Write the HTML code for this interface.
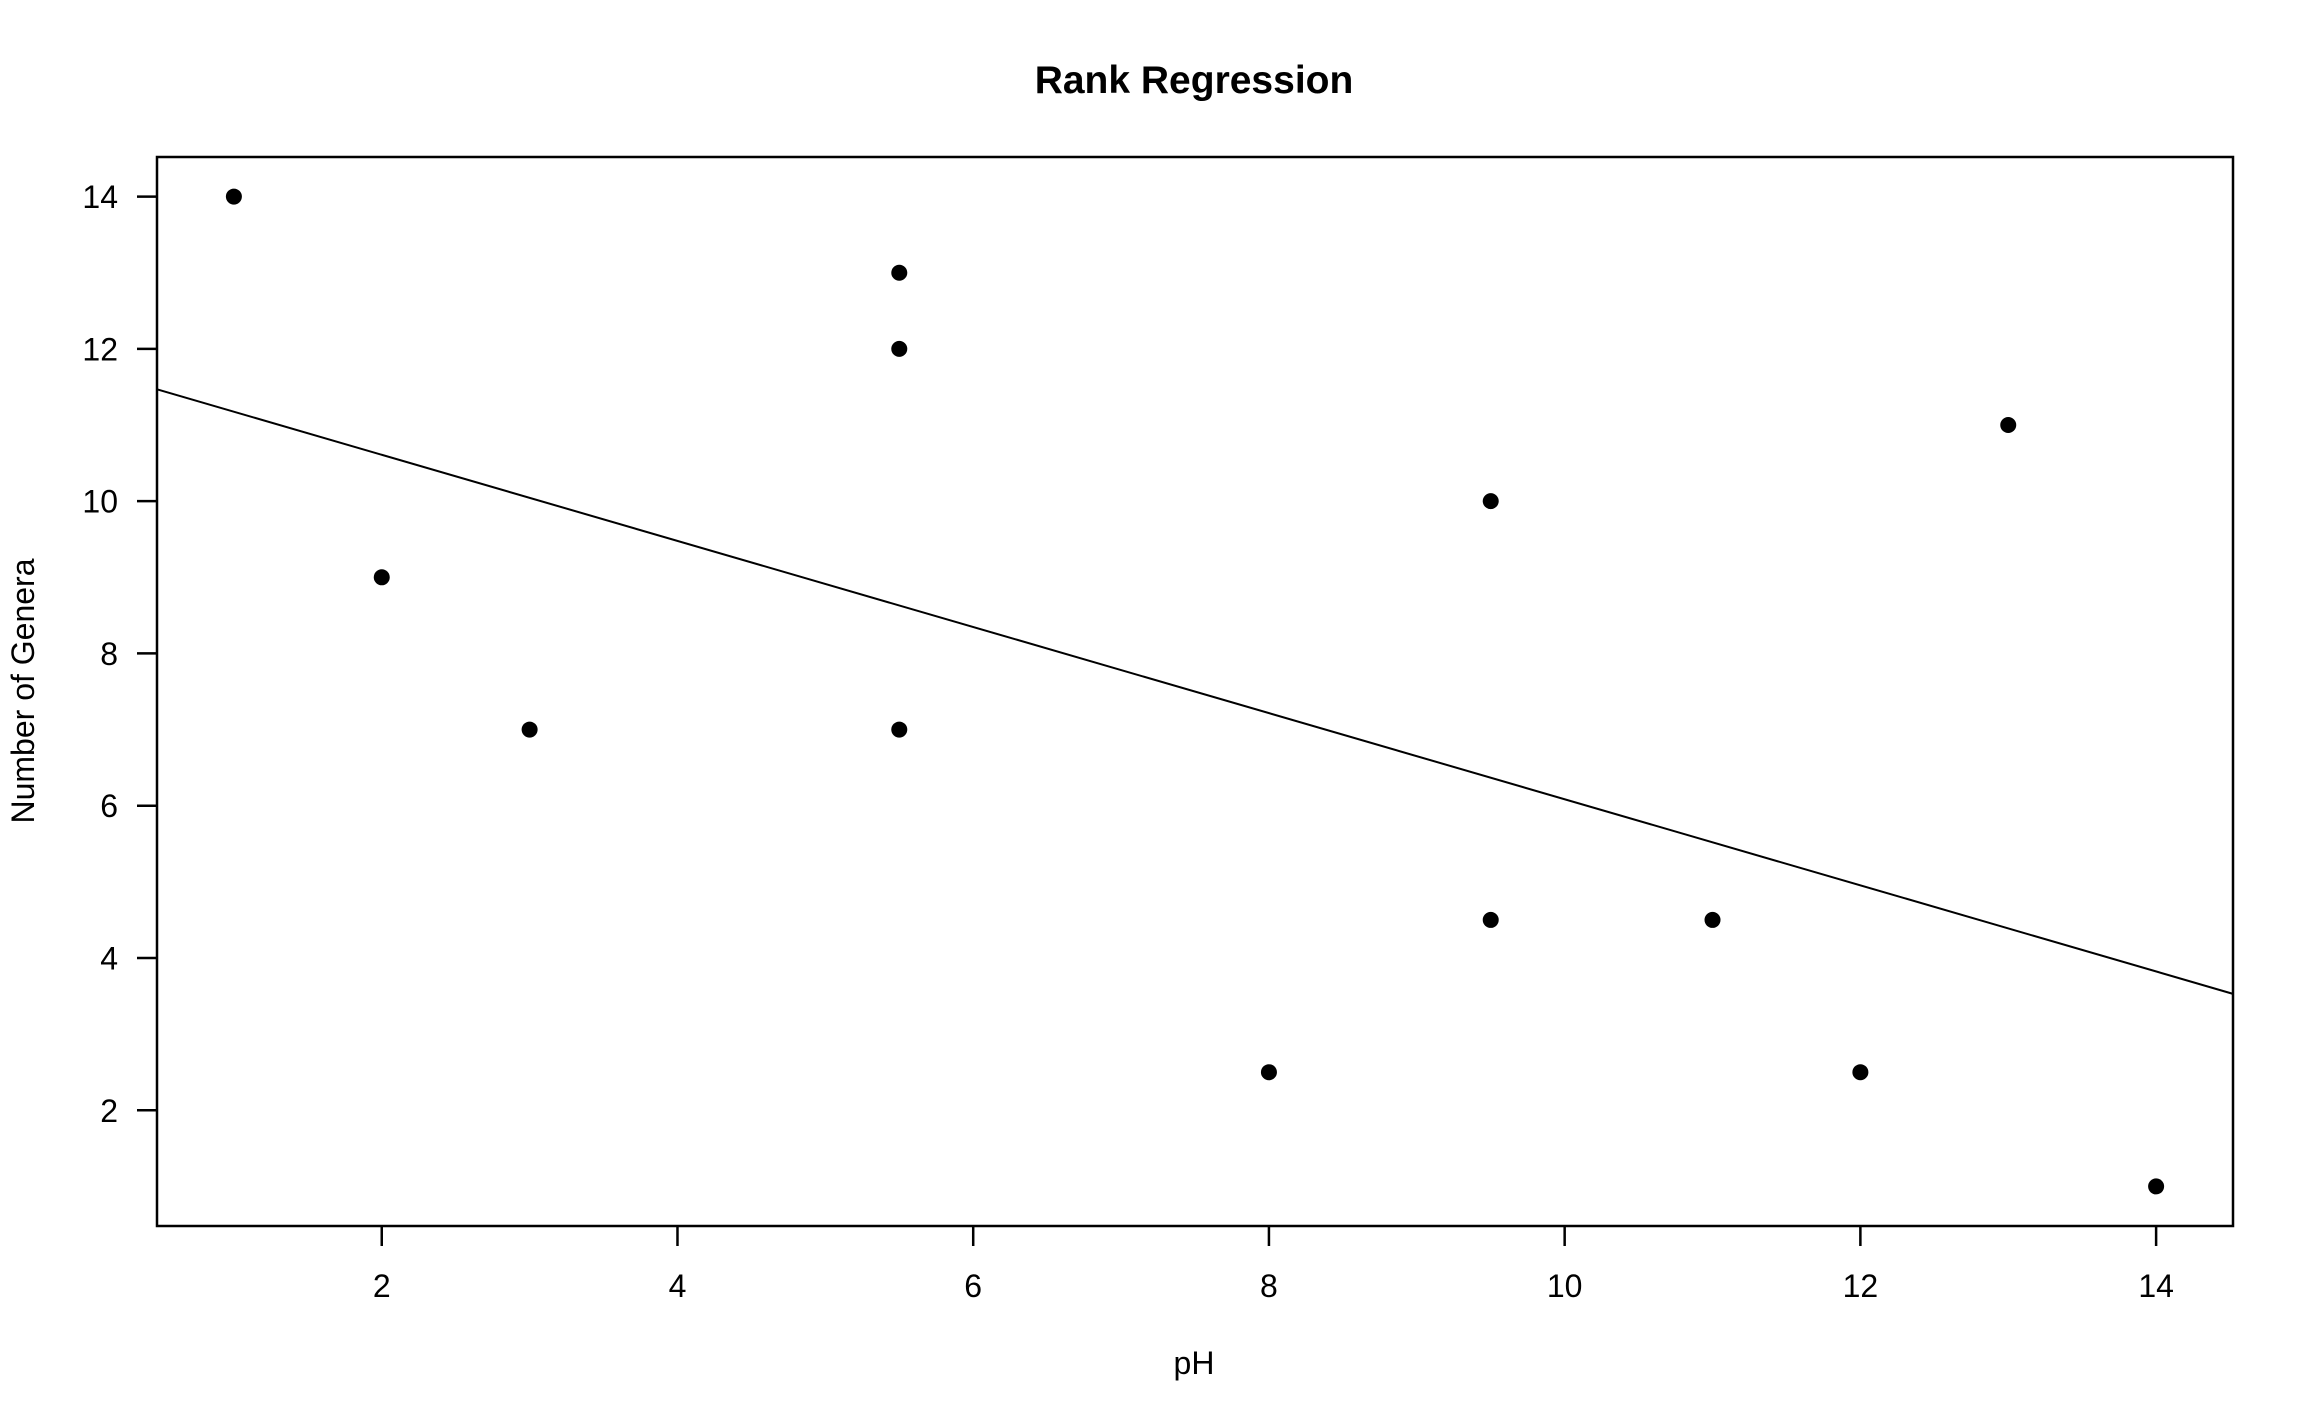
<!DOCTYPE html>
<html><head><meta charset="utf-8"><style>
html,body{margin:0;padding:0;background:#fff;}
svg{display:block;font-family:"Liberation Sans",Arial,sans-serif;}
</style></head><body>
<svg id="chart" width="2314" height="1422" viewBox="0 0 2314 1422" xmlns="http://www.w3.org/2000/svg">
<rect width="2314" height="1422" fill="#fff"/>
<text x="1194" y="93" font-size="39" font-weight="bold" text-anchor="middle">Rank Regression</text>
<text x="1194" y="1374" font-size="32" text-anchor="middle">pH</text>
<text x="0" y="0" font-size="32" text-anchor="middle" transform="translate(34,691) rotate(-90)">Number of Genera</text>
<rect x="157" y="157" width="2076" height="1069" fill="none" stroke="#000" stroke-width="2.5"/>
</svg>
<script>
const xVals = [1, 2, 3, 5.5, 5.5, 5.5, 8, 9.5, 9.5, 11, 12, 13, 14];
const yVals = [14, 9, 7, 13, 12, 7, 2.5, 10, 4.5, 4.5, 2.5, 11, 1];
const xTicks = [2, 4, 6, 8, 10, 12, 14];
const yTicks = [2, 4, 6, 8, 10, 12, 14];
const lineIntercept = 11.74;
const lineSlope = -0.5655;

const X0 = 157, X1 = 2233, Y0 = 1226, Y1 = 157;
const xMin = 0.48, xMax = 14.52, yMin = 0.48, yMax = 14.52;
function sx(v){ return X0 + (v - xMin) / (xMax - xMin) * (X1 - X0); }
function sy(v){ return Y0 - (v - yMin) / (yMax - yMin) * (Y0 - Y1); }

const NS = "http://www.w3.org/2000/svg";
const svg = document.getElementById('chart');
function mk(tag, attrs){ const e = document.createElementNS(NS, tag); for (const k in attrs) e.setAttribute(k, attrs[k]); svg.appendChild(e); return e; }

xTicks.forEach(t => {
  const l = mk('line', {x1: sx(t), x2: sx(t), y1: Y0, y2: Y0 + 20, stroke: '#000', 'stroke-width': 2.5});
  
  
  const tx = mk('text', {x: sx(t), y: 1297, 'font-size': 32, 'text-anchor': 'middle'});
  tx.textContent = t;
  
  
});
yTicks.forEach(t => {
  const l = mk('line', {x1: X0 - 20, x2: X0, y1: sy(t), y2: sy(t), stroke: '#000', 'stroke-width': 2.5});
  
  
  const tx = mk('text', {x: 118, y: sy(t) + 11.5, 'font-size': 32, 'text-anchor': 'end'});
  tx.textContent = t;
  
  
});

const reg = mk('line', {x1: sx(xMin), y1: sy(lineIntercept + lineSlope * xMin), x2: sx(xMax), y2: sy(lineIntercept + lineSlope * xMax), stroke: '#000', 'stroke-width': 2});



xVals.forEach((x, i) => {
  const c = mk('circle', {cx: sx(x), cy: sy(yVals[i]), r: 8, fill: '#000'});
  
  
});
</script>
</body></html>
